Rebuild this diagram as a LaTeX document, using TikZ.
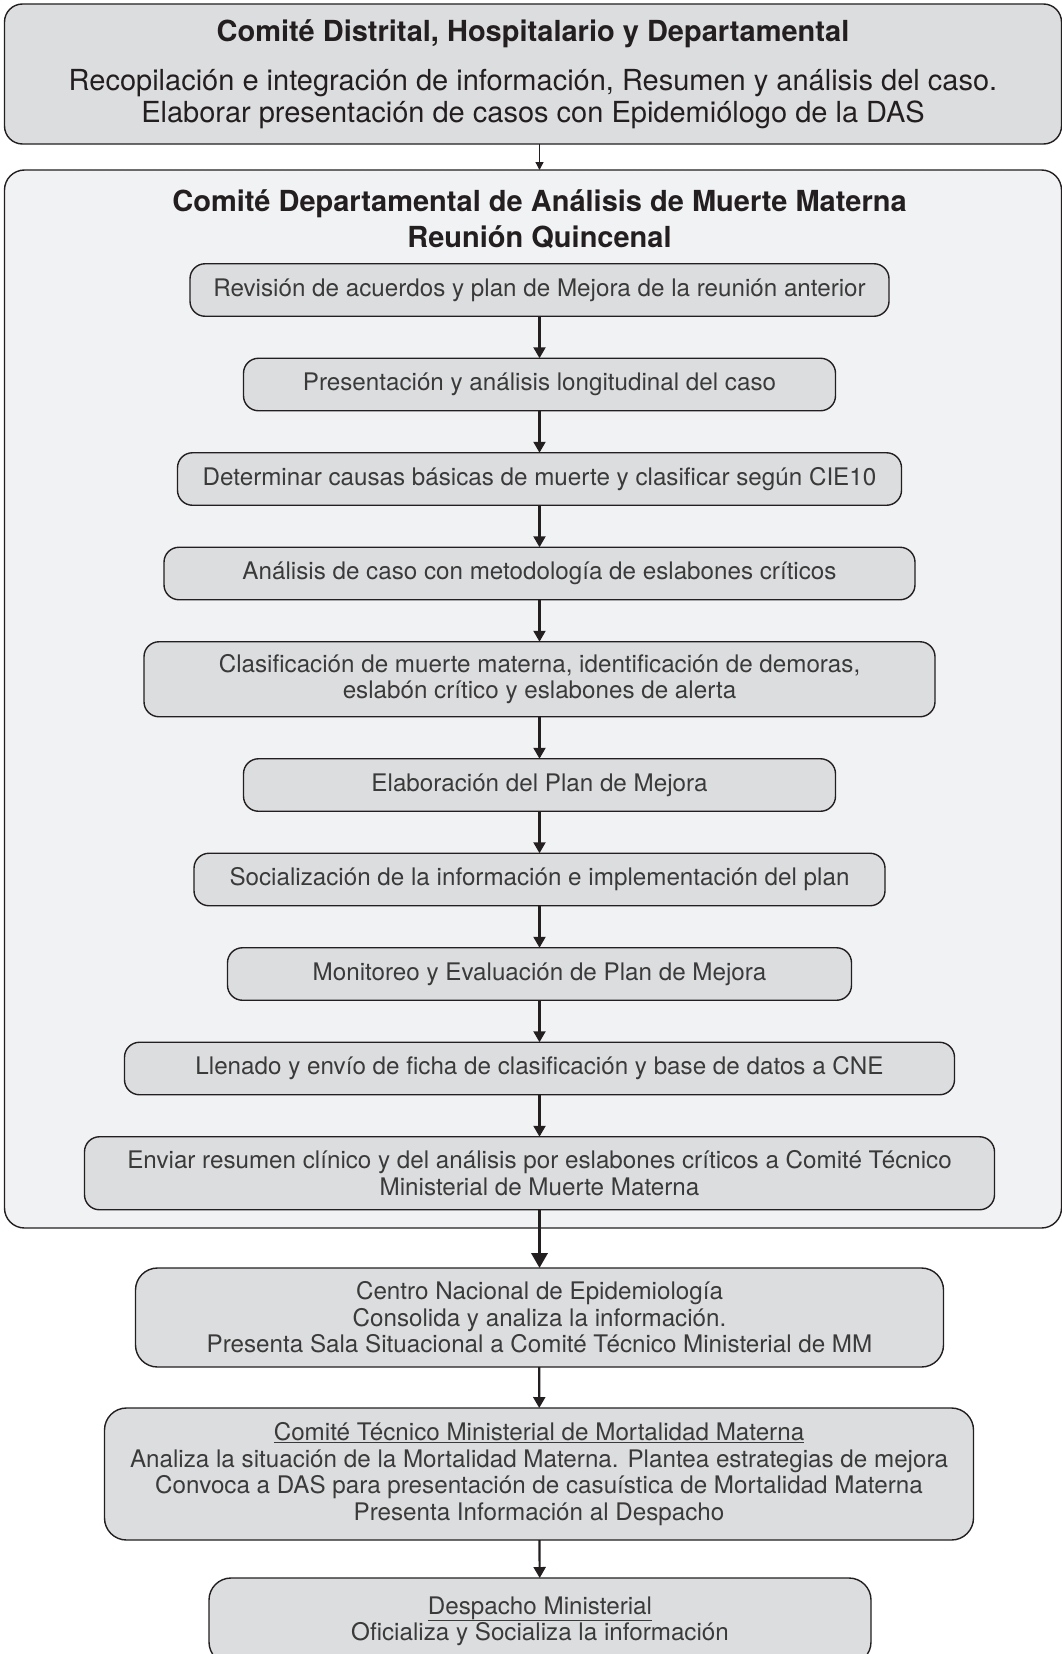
\documentclass[tikz,border=0pt]{standalone}
\usepackage{fontspec}
\setmainfont{TeX Gyre Heros}
\usepackage{xcolor}
\usepackage{tikz}
\usetikzlibrary{positioning,arrows.meta}

\definecolor{boxgray}{HTML}{DCDDDF}
\definecolor{panelgray}{HTML}{F1F2F4}
\definecolor{linegray}{HTML}{231F20}
\definecolor{textgray}{HTML}{3A3A3A}

\begin{document}
\begin{tikzpicture}[x=1pt, y=-1pt, node distance=42pt,
    stepbox/.style={draw=linegray, line width=1.4pt, fill=boxgray, rounded corners=15pt, align=center, text=textgray, minimum height=52.5pt, inner sep=0pt, outer sep=0pt, font=\fontsize{24.2}{26.4}\selectfont},
    bigbox/.style={stepbox, rounded corners=22pt},
    flow/.style={draw=linegray, line width=2.2pt, -{Triangle[length=11pt,width=12pt]}}]
    \useasboundingbox (0,0) rectangle (1062,1654);

    \node[draw=linegray, line width=1.4pt, fill=boxgray, rounded corners=18pt, minimum width=1057pt, minimum height=140pt, inner sep=0pt, outer sep=0pt, align=center, text=linegray, font=\fontsize{29}{32}\selectfont] (distrital) at (533,74)
        {\raisebox{0pt}[0pt][0pt]{}\textbf{Comité Distrital, Hospitalario y Departamental}\\[17pt] Recopilación e integración de información, Resumen y análisis del caso.\\ Elaborar presentación de casos con Epidemiólogo de la DAS};

    \node[draw=linegray, line width=1.4pt, fill=panelgray, rounded corners=20pt, minimum width=1057pt, minimum height=1058pt, inner sep=0pt, outer sep=0pt] (comitedep) at (533,699) {};
    \node[align=center, text=linegray, font=\fontsize{29}{36}\selectfont\bfseries] (reunion) at (539.5,219)
        {Comité Departamental de Análisis de Muerte Materna\\ Reunión Quincenal};

    % pasos de la reunion
    \node[stepbox, minimum width=699pt] (revision) at (539.5,290) {Revisión de acuerdos y plan de Mejora de la reunión anterior};
    \node[stepbox, minimum width=592pt, below=of revision] (presentacion) {Presentación y análisis longitudinal del caso};
    \node[stepbox, minimum width=724pt, below=of presentacion] (causas) {Determinar causas básicas de muerte y clasificar según CIE10};
    \node[stepbox, minimum width=751pt, below=of causas] (eslabones) {Análisis de caso con metodología de eslabones críticos};
    \node[stepbox, minimum width=791pt, minimum height=75pt, below=of eslabones] (clasificacion)
        {Clasificación de muerte materna, identificación de demoras,\\ eslabón crítico y eslabones de alerta};
    \node[stepbox, minimum width=592pt, below=of clasificacion] (plan) {Elaboración del Plan de Mejora};
    \node[stepbox, minimum width=691pt, below=of plan] (socializacion) {Socialización de la información e implementación del plan};
    \node[stepbox, minimum width=624pt, below=of socializacion] (monitoreo) {Monitoreo y Evaluación de Plan de Mejora};
    \node[stepbox, minimum width=830pt, below=of monitoreo] (ficha) {Llenado y envío de ficha de clasificación y base de datos a CNE};
    \node[stepbox, minimum width=910pt, minimum height=73pt, below=of ficha] (resumen)
        {Enviar resumen clínico y del análisis por eslabones críticos a Comité Técnico\\ Ministerial de Muerte Materna};

    % nivel nacional
    \node[bigbox, minimum width=808pt, minimum height=99pt] (cne) at (539.5,1317.5)
        {Centro Nacional de Epidemiología\\ Consolida y analiza la información.\\ Presenta Sala Situacional a Comité Técnico Ministerial de MM};
    \node[bigbox, minimum width=869pt, minimum height=132pt] (ctmm) at (539,1474)
        {\underline{Comité Técnico Ministerial de Mortalidad Materna}\\ Analiza la situación de la Mortalidad Materna. Plantea estrategias de mejora\\ Convoca a DAS para presentación de casuística de Mortalidad Materna\\ Presenta Información al Despacho};
    \node[bigbox, minimum width=662pt, minimum height=86pt] (despacho) at (540,1621)
        {\underline{Despacho Ministerial}\\ Oficializa y Socializa la información};

    \draw[flow, line width=1.3pt, -{Triangle[length=8pt,width=8pt]}] (distrital.south -| revision) -- (comitedep.north -| revision);
    \foreach \a/\b in {revision/presentacion, presentacion/causas, causas/eslabones, eslabones/clasificacion,
        clasificacion/plan, plan/socializacion, socializacion/monitoreo, monitoreo/ficha, ficha/resumen}
        \draw[flow] (\a) -- (\b);
    \draw[flow, line width=3.5pt, -{Triangle[length=15pt,width=16pt]}] (resumen) -- (cne);
    \draw[flow] (cne) -- (ctmm);
    \draw[flow] (ctmm) -- (despacho);
\end{tikzpicture}
\end{document}
